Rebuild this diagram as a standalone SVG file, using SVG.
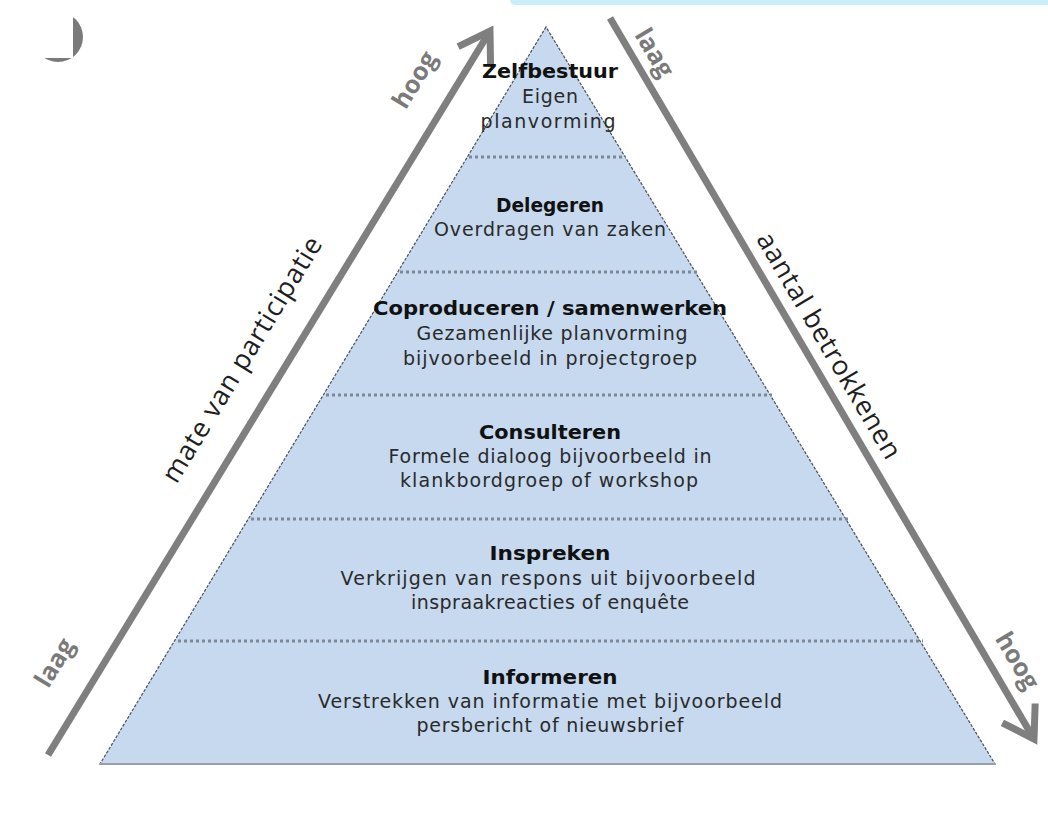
<svg xmlns="http://www.w3.org/2000/svg" width="1048" height="821" viewBox="0 0 1048 821">
<defs>
<style>
.tb{font-family:"DejaVu Sans",Verdana,sans-serif;font-size:19px;font-weight:bold;fill:#111;text-anchor:middle}
.tr{font-family:"DejaVu Sans",Verdana,sans-serif;font-size:19px;fill:#2a2a2a;text-anchor:middle}
.ax{font-family:"Open Sans","Liberation Sans",sans-serif;font-size:27px;fill:#1e1e1e;text-anchor:middle}
.hl{font-family:"Open Sans","Liberation Sans",sans-serif;font-size:25px;font-weight:bold;fill:#7a7a7a;text-anchor:middle}
.div{stroke:#7d8796;stroke-width:3;stroke-dasharray:3 3;fill:none}
.arr{stroke:#7f7f7f;stroke-width:7;fill:none;marker-end:url(#chev)}
</style>
<marker id="chev" markerUnits="userSpaceOnUse" markerWidth="80" markerHeight="80" viewBox="-40 -40 80 80" refX="0" refY="0" orient="auto" overflow="visible">
<path d="M-30,-19 L0,0 L-30,19" fill="none" stroke="#7f7f7f" stroke-width="7" stroke-linejoin="miter"/>
</marker>
</defs>
<rect width="1048" height="821" fill="#ffffff"/>
<path d="M510,0 H1048 V5 H516 Q510,5 510,0 Z" fill="#c9f0fa"/>
<g id="corner">
<circle cx="58" cy="37" r="25" fill="#7a7a7a"/>
<rect x="20" y="0" width="53" height="58" fill="#ffffff"/>
</g>
<g id="pyramid">
<polygon points="546,27 100,764 995,764" fill="#c6d9ef" stroke="#4a4f58" stroke-width="1.2" stroke-dasharray="3 1.5"/>
<line x1="100" y1="764" x2="995" y2="764" stroke="#9a9ea6" stroke-width="2"/>
</g>
<g id="dividers">
<line class="div" x1="469" y1="157" x2="626" y2="157"/>
<line class="div" x1="400" y1="272" x2="697" y2="272"/>
<line class="div" x1="326" y1="395" x2="772" y2="395"/>
<line class="div" x1="251" y1="519" x2="848" y2="519"/>
<line class="div" x1="178" y1="641" x2="923" y2="641"/>
</g>
<g id="connectors">
<line class="arr" x1="48" y1="755" x2="490" y2="31"/>
<line class="arr" x1="610" y1="18" x2="1034" y2="739"/>
</g>
<g id="level-zelfbestuur">
<text class="tb" x="550" y="78" textLength="136" lengthAdjust="spacingAndGlyphs">Zelfbestuur</text>
<text class="tr" x="550" y="103" textLength="56">Eigen</text>
<text class="tr" x="548" y="128" textLength="135">planvorming</text>
</g>
<g id="level-delegeren">
<text class="tb" x="550" y="212" textLength="108" lengthAdjust="spacingAndGlyphs">Delegeren</text>
<text class="tr" x="550" y="236" textLength="232">Overdragen van zaken</text>
</g>
<g id="level-coproduceren">
<text class="tb" x="550" y="315" textLength="354" lengthAdjust="spacingAndGlyphs">Coproduceren / samenwerken</text>
<text class="tr" x="552" y="340" textLength="271">Gezamenlijke planvorming</text>
<text class="tr" x="550" y="365" textLength="294">bijvoorbeeld in projectgroep</text>
</g>
<g id="level-consulteren">
<text class="tb" x="550" y="439" textLength="142" lengthAdjust="spacingAndGlyphs">Consulteren</text>
<text class="tr" x="550" y="463" textLength="323">Formele dialoog bijvoorbeeld in</text>
<text class="tr" x="549" y="487" textLength="298">klankbordgroep of workshop</text>
</g>
<g id="level-inspreken">
<text class="tb" x="550" y="560" textLength="121" lengthAdjust="spacingAndGlyphs">Inspreken</text>
<text class="tr" x="548" y="585" textLength="415">Verkrijgen van respons uit bijvoorbeeld</text>
<text class="tr" x="550" y="609" textLength="278">inspraakreacties of enquête</text>
</g>
<g id="level-informeren">
<text class="tb" x="550" y="684" textLength="135" lengthAdjust="spacingAndGlyphs">Informeren</text>
<text class="tr" x="550" y="708" textLength="464">Verstrekken van informatie met bijvoorbeeld</text>
<text class="tr" x="550" y="732" textLength="267">persbericht of nieuwsbrief</text>
</g>
<g id="axis-labels">
<text class="ax" transform="translate(243,360) rotate(-58.7)" y="8" textLength="282">mate van participatie</text>
<text class="ax" transform="translate(828,346) rotate(59.5)" y="8" textLength="258">aantal betrokkenen</text>
<text class="hl" transform="translate(415,80) rotate(-58.7)" y="8">hoog</text>
<text class="hl" transform="translate(55,663) rotate(-58.7)" y="8">laag</text>
<text class="hl" transform="translate(654,53) rotate(59.5)" y="8">laag</text>
<text class="hl" transform="translate(1017,661) rotate(59.5)" y="8">hoog</text>
</g>
</svg>
